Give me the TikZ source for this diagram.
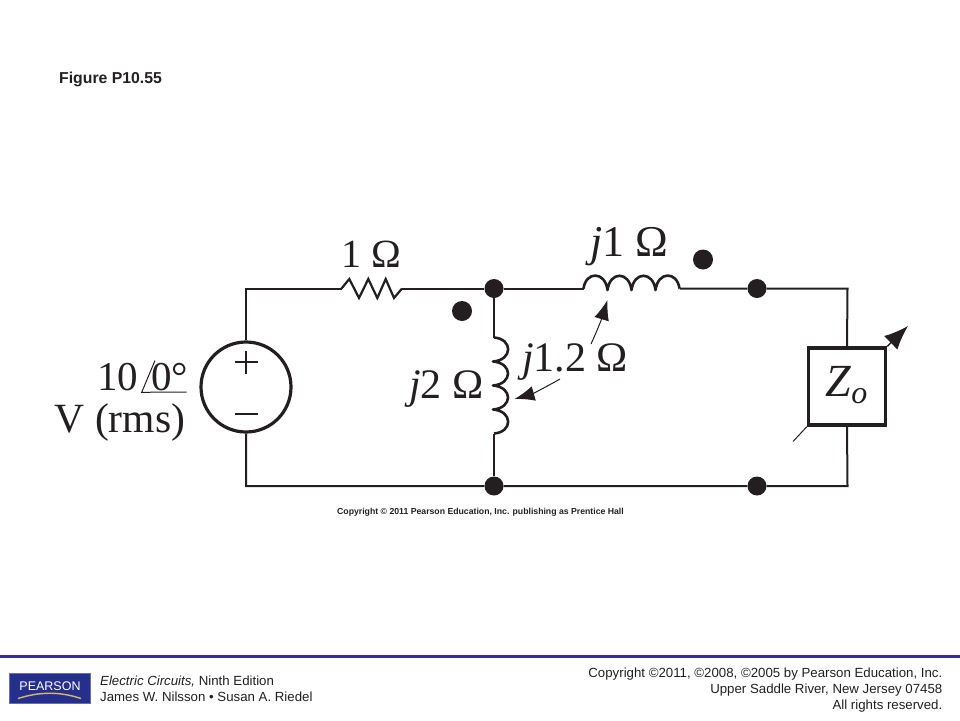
\documentclass[tikz,border=0pt]{standalone}
\usepackage{fontspec}
\setmainfont{Liberation Serif}
\newfontfamily\arialf{Liberation Sans}
\usetikzlibrary{arrows.meta}
\definecolor{ink}{HTML}{231F20}
\definecolor{barblue}{HTML}{333394}
\definecolor{logoblue}{HTML}{26308C}
\definecolor{logogold}{HTML}{D8B868}
\newcommand{\fs}[1]{\fontsize{#1}{#1}\selectfont}
\tikzset{
  wire/.style={draw=ink,line width=2pt},
  coil/.style={draw=ink,line width=2.6pt,line join=round},
  junction/.style={circle,fill=ink,inner sep=0pt,minimum size=19pt},
  dotmark/.style={circle,fill=ink,inner sep=0pt,minimum size=20pt},
  srcbox/.style={circle,draw=ink,line width=3.2pt,inner sep=0pt,minimum size=90pt},
  loadbox/.style={rectangle,draw=ink,line width=3.4pt,inner sep=0pt,minimum size=77pt},
  lbl/.style={inner sep=0pt,text=ink,anchor=base},
  foot/.style={inner sep=0pt,text=ink,font=\arialf\fs{13.25}},
  tip/.style={-{Latex[length=20pt,width=15pt]},draw=ink,line width=1pt}
}
\begin{document}
\begin{tikzpicture}[x=1pt,y=-1pt]
\useasboundingbox (0,0) rectangle (960,720);
% header
\node[lbl,anchor=base west,font=\arialf\bfseries\fs{15.8}] (title) at (59,83) {Figure P10.55};
% terminals and nodes
\coordinate (tl) at (246,288.5);
\coordinate (bl) at (246,486);
\coordinate (tr) at (847.5,288.5);
\coordinate (br) at (847.5,486);
\coordinate (rA) at (341.5,288.5);
\coordinate (rB) at (402,288.5);
\coordinate (hA) at (583.5,288.5);
\coordinate (hB) at (679.5,288.5);
\coordinate (vA) at (494,337.5);
\coordinate (vB) at (494,433.5);
\node[srcbox] (src) at (246,387) {};
\node[loadbox] (load) at (847,386.5) {};
\node[junction] (n1) at (494,288.5) {};
\node[junction] (n2) at (494,486) {};
\node[junction] (n3) at (757,288.5) {};
\node[junction] (n4) at (757,486) {};
\node[dotmark] (d1) at (462,311) {};
\node[dotmark] (d2) at (703,259.5) {};
% wires
\draw[wire] (src.north) -- (tl) -- (rA);
\draw[wire] (rB) -- (n1) -- (hA);
\draw[wire] (hB) -- (n3) -- (tr) -- (load.north);
\draw[wire] (src.south) -- (bl) -- (n2) -- (n4) -- (br) -- (load.south);
\draw[wire] (n1) -- (vA);
\draw[wire] (vB) -- (n2);
% resistor
\draw[wire,line width=2.2pt,line join=miter] (rA) -- (349.3,279) -- (359,298) -- (368.3,279) -- (377.3,298) -- (385.7,279) -- (394,298) -- (rB);
% horizontal inductor
\draw[coil] (hA)
  .. controls (586,271) and (605,271) .. (607.5,290)
  .. controls (610,271) and (629,271) .. (631.5,290)
  .. controls (634,271) and (653,271) .. (655.5,290)
  .. controls (658,271) and (677,271) .. (hB);
% vertical inductor
\draw[coil] (vA)
  .. controls (513,339) and (513,360) .. (493,361.5)
  .. controls (513,363) and (513,384) .. (493,385.5)
  .. controls (513,387) and (513,408) .. (493,409.5)
  .. controls (513,411) and (513,432) .. (vB);
% source signs
\draw[ink,line width=1.4pt] (234.5,362) -- (257.5,362) (246,351) -- (246,374);
\draw[ink,line width=1.4pt] (234.5,414) -- (257.5,414);
% source label
\node[lbl,anchor=base west,font=\fs{41}] (v1) at (97,390) {10};
\node[lbl,anchor=base west,font=\fs{41}] (v2) at (151,390) {0°};
\node[lbl,anchor=base west,font=\fs{41.6}] (v3) at (54.5,432) {V (rms)};
\coordinate (angA) at (155,360.5);
\coordinate (angB) at (141.7,392.3);
\coordinate (angC) at (186.7,392);
\draw[ink,line width=1pt] (angA) -- (angB) -- (angC);
% element labels
\node[lbl,font=\fs{40}] (r1) at (371,267.5) {1 Ω};
\node[lbl,font=\fs{44}] (l1) at (629.5,256) {\textit{j}1 Ω};
\node[lbl,font=\fs{42}] (l2) at (446.5,398) {\textit{j}2 Ω};
\node[lbl,font=\fs{42}] (m) at (575,371.5) {\textit{j}1.2 Ω};
% mutual arrows
\coordinate (mA) at (591,344);
\coordinate (mB) at (607.5,300);
\coordinate (mC) at (560,379);
\coordinate (mD) at (514.5,399);
\draw[tip] (mA) .. controls (597,331) and (602,318) .. (mB);
\draw[tip] (mC) .. controls (546,387) and (532,394) .. (mD);
% load
\node[lbl,font=\fs{46}\itshape] (zo) at (846.5,396) {Z\raisebox{-7pt}{\fs{32}o}};
\coordinate (wA) at (793,441.5);
\coordinate (wB) at (908,326);
\draw[ink,line width=1pt] (load.south west) -- (wA);
\draw[ink,line width=1.4pt,-{Latex[length=24pt,width=19pt]}] (load.north east) -- (wB);
% copyright
\node[lbl,font=\arialf\bfseries\fs{8.7}] (cp) at (480.5,514) {Copyright © 2011 Pearson Education, Inc. publishing as Prentice Hall};
% footer
\fill[barblue] (0,654.8) rectangle (960,657.8);
\node[rectangle,fill=logoblue,draw=logoblue!70!white,line width=0.5pt,minimum width=81pt,minimum height=30pt,inner sep=0pt] (logo) at (50,688) {};
\node[inner sep=0pt,anchor=base,text=white,font=\fs{12.5}\arialf] (logot) at (50,690) {PEARSON};
\coordinate (arcA) at (18,698.5);
\coordinate (arcB) at (81,698.5);
\draw[logogold,line width=1.4pt] (arcA) .. controls (40,691.5) and (60,691.5) .. (arcB);
\node[foot,anchor=base west] (f1) at (100,685) {\textit{Electric Circuits,} Ninth Edition};
\node[foot,anchor=base west] (f2) at (100,701.5) {James W. Nilsson • Susan A. Riedel};
\node[foot,anchor=base east] (f3) at (942.5,677) {Copyright ©2011, ©2008, ©2005 by Pearson Education, Inc.};
\node[foot,anchor=base east] (f4) at (942.5,693) {Upper Saddle River, New Jersey 07458};
\node[foot,anchor=base east] (f5) at (942.5,709) {All rights reserved.};
\end{tikzpicture}
\end{document}
